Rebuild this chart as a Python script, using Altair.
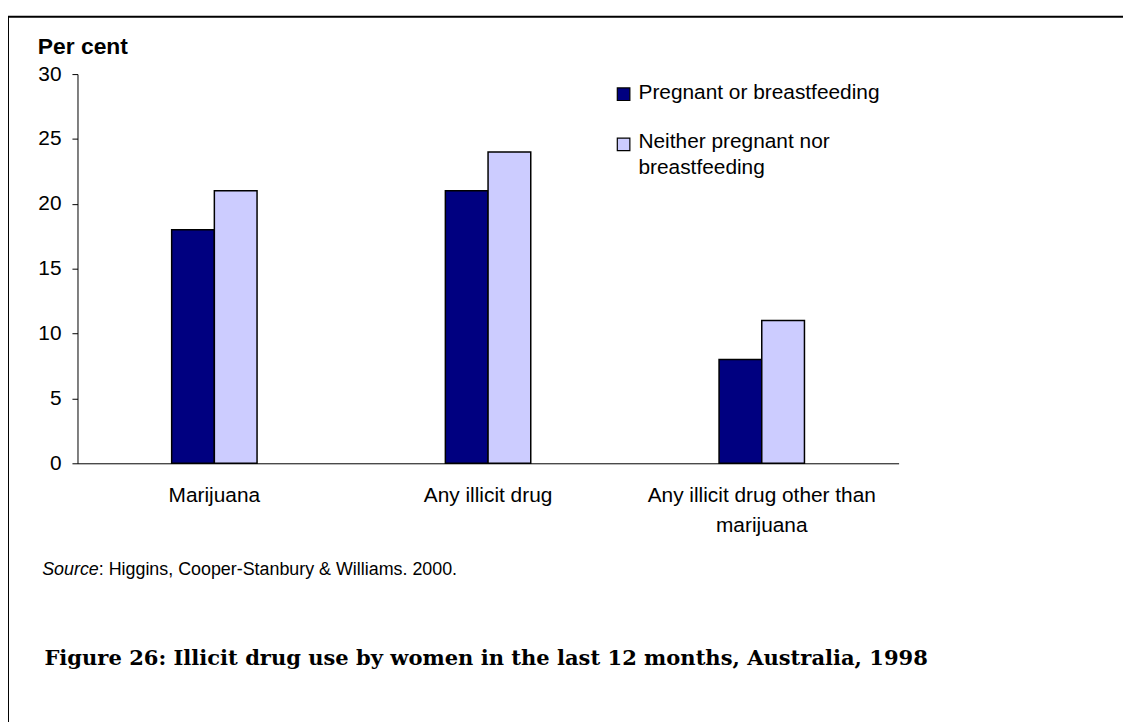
import altair as alt
import pandas as pd

categories = ["Marijuana", "Any illicit drug", "Any illicit drug other than marijuana"]
series = ["Pregnant or breastfeeding", "Neither pregnant nor breastfeeding"]
pregnant = [18, 21, 8]
neither = [21, 24, 11]
colors = ["#000080", "#CCCCFF"]
y_ticks = [0, 5, 10, 15, 20, 25, 30]

rows = []
for c, a, b in zip(categories, pregnant, neither):
    rows.append({"category": c, "series": series[0], "value": a})
    rows.append({"category": c, "series": series[1], "value": b})
df = pd.DataFrame(rows)

SANS = "Liberation Sans"
one = pd.DataFrame({"k": [0]})

bars = alt.Chart(df).mark_bar(stroke="black", strokeWidth=1.5, opacity=1).encode(
    x=alt.X("category:N", sort=categories, title=None,
            scale=alt.Scale(paddingInner=0.688, paddingOuter=0.344),
            axis=alt.Axis(labelAngle=0, ticks=False, domainColor="black", domainWidth=1,
                          labelFont=SANS, labelFontSize=21, labelColor="black",
                          labelPadding=21, labelLineHeight=31, labelLimit=400,
                          labelExpr="datum.value == 'Any illicit drug other than marijuana' ? ['Any illicit drug other than', 'marijuana'] : datum.label")),
    xOffset=alt.XOffset("series:N", sort=series,
                        scale=alt.Scale(paddingInner=0, paddingOuter=0)),
    y=alt.Y("value:Q", title=None, scale=alt.Scale(domain=[0, 30], nice=False),
            axis=alt.Axis(values=y_ticks, grid=False, tickSize=5.6, tickColor="black",
                          domainColor="black", domainWidth=1, labelPadding=11,
                          labelFont=SANS, labelFontSize=21, labelColor="black")),
    color=alt.Color("series:N", scale=alt.Scale(domain=series, range=colors), legend=None),
)

def text(t, x, y, size, weight="normal", style="normal", font=SANS, baseline="alphabetic"):
    return alt.Chart(pd.DataFrame({"t": [t]})).mark_text(
        align="left", baseline=baseline, font=font, fontSize=size,
        fontWeight=weight, fontStyle=style, color="black"
    ).encode(text="t:N", x=alt.value(x), y=alt.value(y))

per_cent = text("Per cent", -40, -20, 23, weight="bold")

leg_sq1 = alt.Chart(one).mark_square(size=160, stroke="black", strokeWidth=1.2,
                                     fill=colors[0], opacity=1).encode(
    x=alt.value(550), y=alt.value(20.3))
leg_sq2 = alt.Chart(one).mark_square(size=160, stroke="black", strokeWidth=1.2,
                                     fill=colors[1], opacity=1).encode(
    x=alt.value(550), y=alt.value(70.8))
leg_t1 = text(series[0], 565, 19.5, 21, baseline="middle")
leg_t2 = text("Neither pregnant nor", 565, 68.5, 21, baseline="middle")
leg_t3 = text("breastfeeding", 565, 94.8, 21, baseline="middle")

src1 = text("Source", -35.6, 505, 18, style="italic")
src2 = text(": Higgins, Cooper-Stanbury & Williams. 2000.", 21.4, 505, 18)

fig_title = text("Figure 26: Illicit drug use by women in the last 12 months, Australia, 1998",
                 -33.3, 595, 21.2, weight="bold", font="DejaVu Serif")

frame_top = alt.Chart(one).mark_rule(color="black", strokeWidth=2).encode(
    x=alt.value(-70), x2=alt.value(1060), y=alt.value(-57.7))
frame_left = alt.Chart(one).mark_rule(color="black", strokeWidth=2).encode(
    x=alt.value(-70), y=alt.value(-57.7), y2=alt.value(700))

chart = alt.layer(
    bars, per_cent, leg_sq1, leg_sq2, leg_t1, leg_t2, leg_t3,
    src1, src2, fig_title, frame_top, frame_left
).properties(
    width=827, height=392,
    autosize=alt.AutoSizeParams(type="none"),
    padding={"left": 70, "top": 64, "right": 226, "bottom": 258},
    background="white",
).configure_view(stroke=None)

chart.save("out.html", embed_options={"renderer": "svg", "actions": False})
